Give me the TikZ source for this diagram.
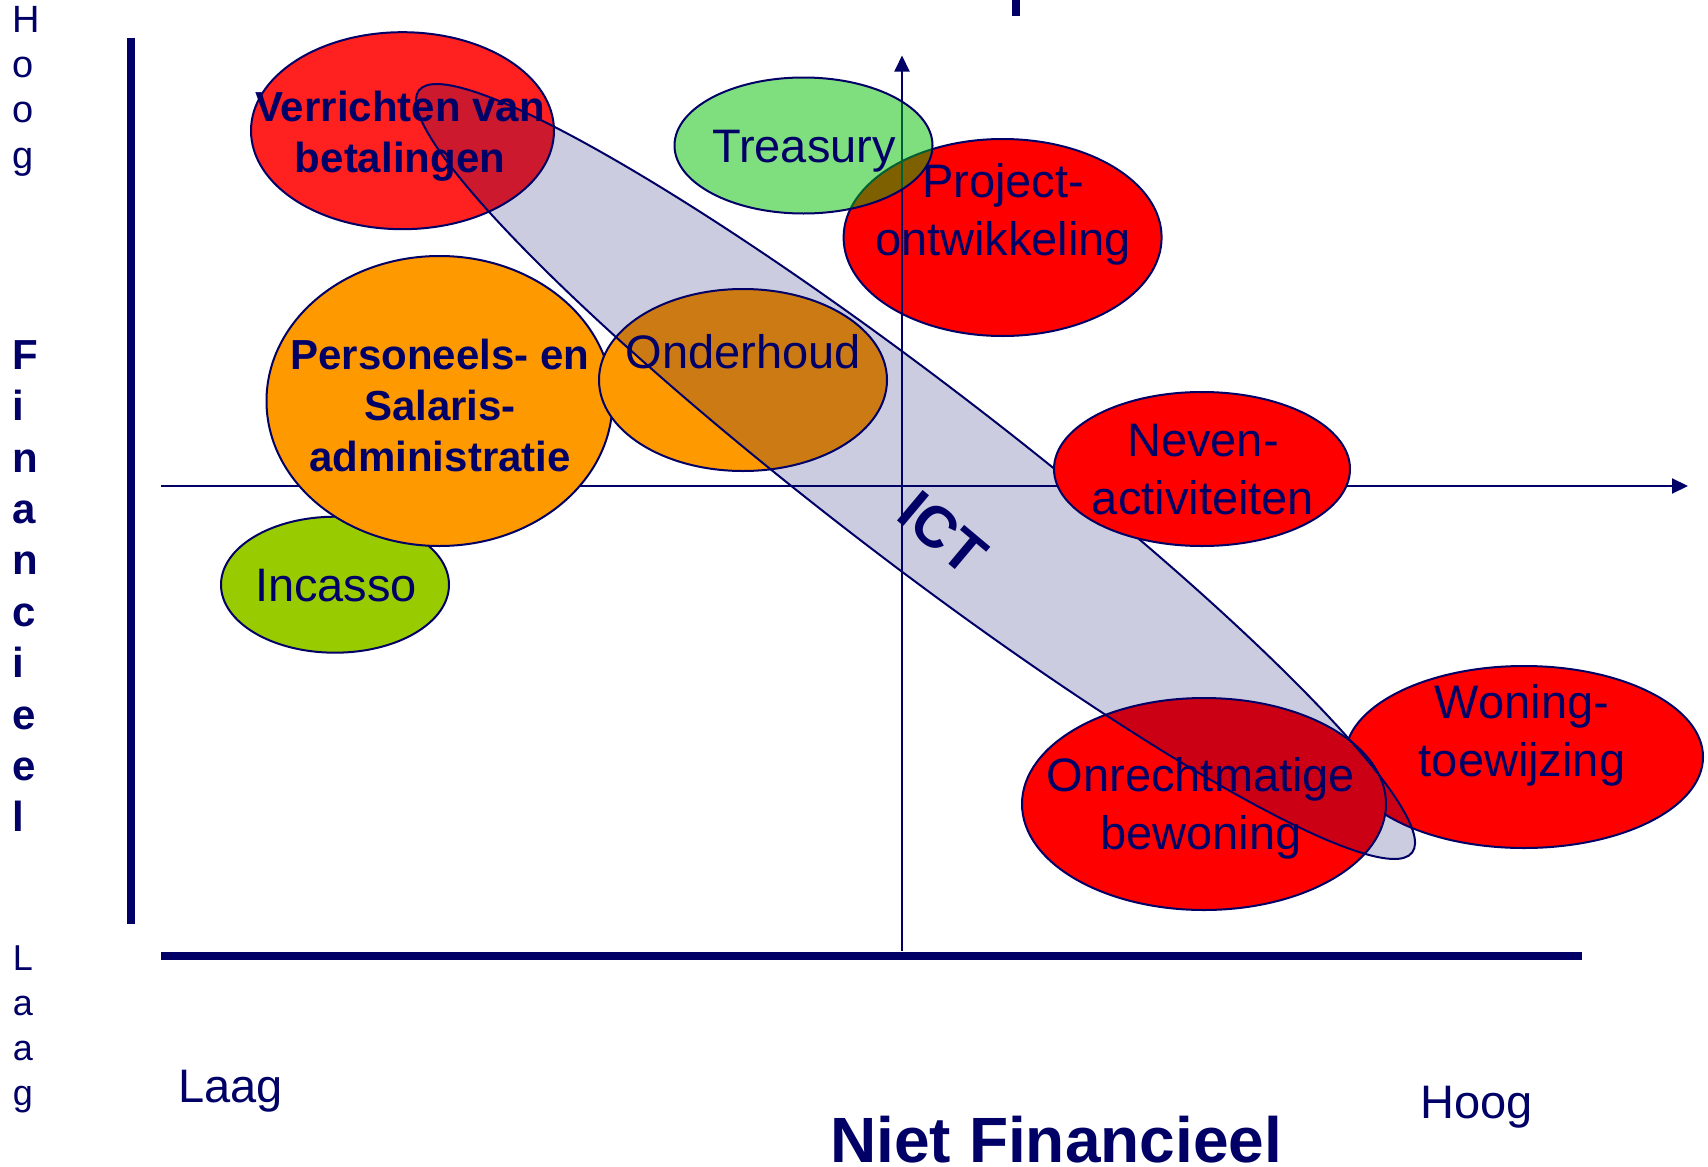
\documentclass[tikz,border=0pt]{standalone}
\usepackage{fontspec}
\setmainfont{Liberation Sans}
\usepackage{xcolor}
\usetikzlibrary{arrows.meta}
\definecolor{navy}{RGB}{0,0,102}
\definecolor{rood}{RGB}{255,0,0}
\definecolor{lichtrood}{RGB}{255,32,32}
\definecolor{oranje}{RGB}{255,153,0}
\definecolor{geelgroen}{RGB}{153,204,0}
\definecolor{groen}{RGB}{0,192,0}
\tikzset{
  ovaal/.style={draw=navy, line width=1pt},
  lbl/.style={text=navy, inner sep=0pt, align=center, font=\fontsize{23.5}{29}\selectfont},
  lblb/.style={text=navy, inner sep=0pt, align=center, font=\fontsize{21}{25.5}\selectfont\bfseries},
  as/.style={draw=navy, line width=1pt, -{Triangle[length=8pt,width=7.5pt]}},
}
\begin{document}
\begin{tikzpicture}[x=0.5pt,y=0.5pt,yscale=-1]
\useasboundingbox (0,0) rectangle (1708,1167);

%Thick Lines
\draw [navy, line width=4pt] (131,37.5) -- (131,924);
\draw [navy, line width=4pt] (161,955.5) -- (1582,955.5);
\fill [navy] (1012,0) rectangle (1020,15.5);

%Straight Lines (horizontal axis)
\coordinate (hl) at (161,486);
\coordinate (hr) at (1688,486);
\draw [as] (hl) -- (hr);

%Ellipse: Incasso
\draw [ovaal, fill=geelgroen] (335,584.7) ellipse [x radius=114, y radius=68];
%Ellipse: Personeels
\draw [ovaal, fill=oranje] (439.5,401) ellipse [x radius=173, y radius=145];
%Ellipse: Onderhoud
\draw [ovaal, fill=oranje] (743,380) ellipse [x radius=144, y radius=91];
%Ellipse: Verrichten
\draw [ovaal, fill=lichtrood] (402.5,130.7) ellipse [x radius=151.5, y radius=98.5];
%Ellipse: Project
\draw [ovaal, fill=rood] (1002.6,237.5) ellipse [x radius=159, y radius=98.5];

%Straight Lines (vertical axis)
\coordinate (vb) at (902,951);
\coordinate (vt) at (902,55.5);
\draw [as] (vb) -- (vt);

%Ellipse: Treasury
\draw [ovaal, fill=groen, fill opacity=0.5] (803.5,145.5) ellipse [x radius=129, y radius=68];
%Ellipse: Woning
\draw [ovaal, fill=rood] (1524,757) ellipse [x radius=179, y radius=91];
%Ellipse: Onrechtmatige
\draw [ovaal, fill=rood] (1204,804) ellipse [x radius=182, y radius=106];

%Ellipse: ICT
\draw [ovaal, fill=navy, fill opacity=0.2, rotate around={37.5:(915.5,471.5)}] (915.5,471.5) ellipse [x radius=626, y radius=88];

%Ellipse: Neven
\draw [ovaal, fill=rood] (1202,469) ellipse [x radius=148, y radius=77];

% Text Node
\node [lblb] (verr) at (400,136.7) {Verrichten van\\betalingen};
% Text Node
\node [lbl] (treas) at (804,151) {Treasury};
% Text Node
\node [lbl] (proj) at (1003,214) {Project-\\ontwikkeling};
% Text Node
\node [lblb] (pers) at (440,405.8) {Personeels- en\\Salaris-\\administratie};
% Text Node
\node [lbl] (onderh) at (743.5,352) {Onderhoud};
% Text Node
\node [lbl] (neven) at (1203,470) {Neven-\\activiteiten};
% Text Node
\node [lbl] (inc) at (336,586) {Incasso};
% Text Node
\node [lbl] (onrecht) at (1201,808.6) {Onrechtmatige\\bewoning};
% Text Node
\node [lbl] (woning) at (1522,735.6) {Woning-\\toewijzing};
% Text Node
\node [lblb, font=\fontsize{29}{34}\selectfont\bfseries, rotate=-40] (ict) at (943,533) {ICT};

% Text Node (axis labels)
\node [lbl, align=left, anchor=north west, font=\fontsize{19}{22.7}\selectfont] (hoogv) at (12.5,5.5) {H\\o\\o\\g};
\node [lblb, align=left, anchor=north west, font=\fontsize{21}{25.7}\selectfont\bfseries] (fin) at (12.5,339.9) {F\\i\\n\\a\\n\\c\\i\\e\\e\\l};
\node [lbl, align=left, anchor=north west, font=\fontsize{18}{22.5}\selectfont] (laagv) at (12.5,945.2) {L\\a\\a\\g};
\node [lbl, anchor=base west] (laagh) at (178,1102) {Laag};
\node [lbl, anchor=base west] (hoogh) at (1420,1118) {Hoog};
\node [lblb, anchor=base west, font=\fontsize{32}{36}\selectfont\bfseries] (nfin) at (830,1162) {Niet Financieel};

\end{tikzpicture}
\end{document}
